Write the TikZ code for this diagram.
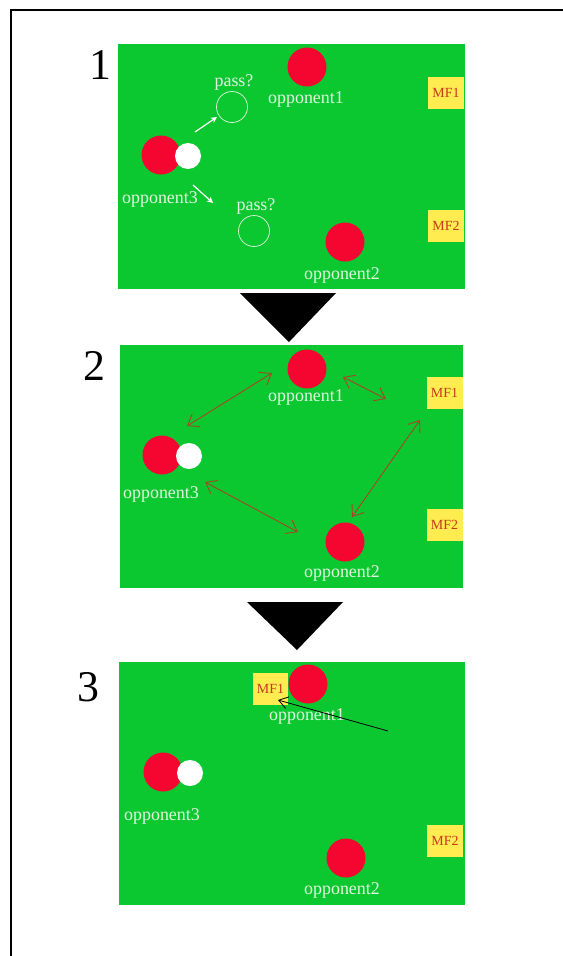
\documentclass[tikz,border=0pt]{standalone}
\usepackage{fontspec}
\setmainfont{Liberation Serif}
\usetikzlibrary{arrows.meta}
\definecolor{fieldgreen}{RGB}{12,200,48}
\definecolor{oppred}{RGB}{244,6,48}
\definecolor{mfyellow}{RGB}{255,236,80}
\definecolor{mftext}{RGB}{200,55,30}
\definecolor{labwhite}{RGB}{225,245,225}
\definecolor{passbrown}{RGB}{165,70,35}
\tikzset{
  fieldbox/.style={fill=fieldgreen, draw=none, inner sep=0pt},
  opp/.style={circle, fill=oppred, draw=none, minimum size=39bp, inner sep=0pt},
  ball/.style={circle, fill=white, draw=none, minimum size=26bp, inner sep=0pt},
  ghost/.style={circle, draw=labwhite, line width=0.7bp, minimum size=31bp, inner sep=0pt},
  lab/.style={text=labwhite, font=\fontsize{18}{18}\selectfont, inner sep=0pt},
  mfbox/.style={fill=mfyellow, draw=none, minimum width=36bp, minimum height=32bp, inner sep=0pt, text=mftext, font=\fontsize{14}{14}\selectfont},
  stepnum/.style={font=\fontsize{44}{44}\selectfont, inner sep=0pt},
  whitearrow/.style={draw=white, line width=1.2bp, -{Stealth[length=6bp,width=6bp]}},
  passarrow/.style={draw=passbrown, line width=0.9bp, {Straight Barb[length=10bp,width=15bp]}-{Straight Barb[length=10bp,width=15bp]}},
  runarrow/.style={draw=black, line width=0.8bp, -{Straight Barb[length=9bp,width=12bp]}},
  downtri/.style={fill=black}
}
\begin{document}
\begin{tikzpicture}[x=1bp,y=-1bp]
\useasboundingbox (0,0) rectangle (563,956);
\draw[line width=2bp] (11,970) -- (11,10) -- (580,10);

% ---------------- panel 1 ----------------
\node[stepnum] (n1) at (100,65) {1};
\node[fieldbox, minimum width=347bp, minimum height=245bp] (p1) at (291.5,166.5) {};
\node[opp] (p1o1) at (307,67) {};
\node[lab] (p1o1l) at (306,99) {opponent1};
\node[lab] (p1pa) at (234,82) {pass?};
\node[ghost] (p1g1) at (232,107) {};
\node[opp] (p1o3) at (161,155) {};
\node[ball] (p1b) at (188,156) {};
\node[lab] (p1o3l) at (160,199) {opponent3};
\node[lab] (p1pb) at (256,206) {pass?};
\node[ghost] (p1g2) at (254,231) {};
\node[opp] (p1o2) at (345,242) {};
\node[lab] (p1o2l) at (342,275) {opponent2};
\node[mfbox] (p1m1) at (446,92.5) {MF1};
\node[mfbox] (p1m2) at (446,226) {MF2};
\coordinate (p1a1s) at (195,132);
\coordinate (p1a1e) at (217,117);
\coordinate (p1a2s) at (193,185);
\coordinate (p1a2e) at (213,203);
\draw[whitearrow] (p1a1s) -- (p1a1e);
\draw[whitearrow] (p1a2s) -- (p1a2e);

\fill[downtri] (240,293) -- (336,293) -- (289,342) -- cycle;

% ---------------- panel 2 ----------------
\node[stepnum] (n2) at (94,366) {2};
\node[fieldbox, minimum width=343bp, minimum height=243bp] (p2) at (291.5,466.5) {};
\node[opp] (p2o1) at (307,369) {};
\node[lab] (p2o1l) at (306,397) {opponent1};
\node[mfbox] (p2m1) at (444.5,392.5) {MF1};
\node[mfbox] (p2m2) at (444.5,525) {MF2};
\node[opp] (p2o3) at (162,455) {};
\node[ball] (p2b) at (189,456) {};
\node[lab] (p2o3l) at (161,494) {opponent3};
\node[opp] (p2o2) at (345,542) {};
\node[lab] (p2o2l) at (342,573) {opponent2};
\coordinate (p2aA) at (272,373);
\coordinate (p2aB) at (187,426);
\coordinate (p2bA) at (343,377);
\coordinate (p2bB) at (386,399);
\coordinate (p2cA) at (420,420);
\coordinate (p2cB) at (352,517);
\coordinate (p2dA) at (205,482);
\coordinate (p2dB) at (298,532);
\draw[passarrow] (p2aA) -- (p2aB);
\draw[passarrow] (p2bA) -- (p2bB);
\draw[passarrow] (p2cA) -- (p2cB);
\draw[passarrow] (p2dA) -- (p2dB);

\fill[downtri] (247,602) -- (343,602) -- (297,650) -- cycle;

% ---------------- panel 3 ----------------
\node[stepnum] (n3) at (88,687) {3};
\node[fieldbox, minimum width=346bp, minimum height=243bp] (p3) at (292,783.5) {};
\node[mfbox, minimum width=35bp] (p3m1) at (270.5,689) {MF1};
\node[opp] (p3o1) at (308,684) {};
\node[lab] (p3o1l) at (307,716) {opponent1};
\node[opp] (p3o3) at (163,772) {};
\node[ball] (p3b) at (190,773) {};
\node[lab] (p3o3l) at (162,816) {opponent3};
\node[opp] (p3o2) at (346,858) {};
\node[lab] (p3o2l) at (342,890) {opponent2};
\node[mfbox] (p3m2) at (445,841) {MF2};
\coordinate (p3as) at (388,731);
\coordinate (p3ae) at (278,700);
\draw[runarrow] (p3as) -- (p3ae);
\end{tikzpicture}
\end{document}
